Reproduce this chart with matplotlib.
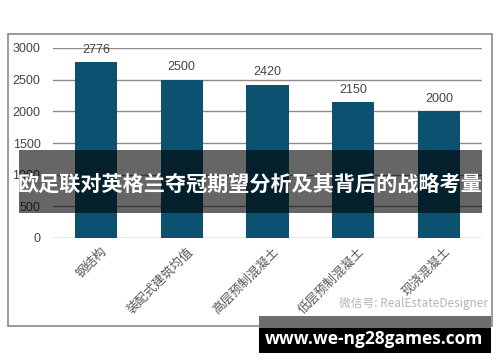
import matplotlib
matplotlib.use("Agg")
import matplotlib.pyplot as plt
from matplotlib.patches import Rectangle

plt.rcParams['font.family'] = ['Liberation Sans', 'Noto Sans CJK SC', 'DejaVu Sans']

categories = ["钢结构", "装配式建筑均值", "高层预制混凝土", "低层预制混凝土", "现浇混凝土"]
values = [2776, 2500, 2420, 2150, 2000]
yticks = [0, 500, 1000, 1500, 2000, 2500, 3000]
title = "欧足联对英格兰夺冠期望分析及其背后的战略考量"
site = "www.we-ng28games.com"
wechat = "微信号: RealEstateDesigner"

W, H = 500, 362
fig = plt.figure(figsize=(W / 100, H / 100), dpi=100)

def fx(px):
    return px / W

def fy(py):
    return 1 - py / H

# outer border
fig.patches.append(Rectangle((fx(8), fy(326)), fx(492) - fx(8), fy(34) - fy(326),
                             transform=fig.transFigure, fill=False, edgecolor="#8a8a8a", lw=1.2))

ax = fig.add_axes([fx(53), fy(238), fx(482) - fx(53), fy(48) - fy(238)])
x = range(len(categories))
ax.bar(x, values, width=0.49, color="#0c5170", zorder=3)
ax.set_xlim(-0.5, len(categories) - 0.5)
ax.set_ylim(0, 3000)
ax.set_yticks(yticks)
ax.set_yticklabels([str(v) for v in yticks], fontsize=9, color="#444444")
ax.yaxis.grid(True, color="#8c8c8c", lw=1.0, zorder=0)
ax.tick_params(axis="y", length=0, pad=9)
ax.tick_params(axis="x", length=0, pad=5)
for s in ax.spines.values():
    s.set_visible(False)
ax.set_xticks([xi + 0.05 for xi in x])
ax.set_xticklabels(categories, rotation=45, ha="right", rotation_mode="anchor",
                   fontsize=9, color="#555555", family=["Noto Sans CJK SC", "DejaVu Sans"])
for xi, v in zip(x, values):
    ax.annotate(str(v), (xi, v), xytext=(0, 4.5), textcoords="offset points",
                ha="center", va="bottom", fontsize=9, color="#444444")

# title overlay band
fig.patches.append(Rectangle((fx(19), fy(212.5)), fx(482) - fx(19), fy(150) - fy(212.5),
                             transform=fig.transFigure, facecolor="black", alpha=0.6,
                             edgecolor="none", zorder=10))
fig.text(fx(250), fy(184), title, ha="center", va="center", color="white",
         fontsize=15.2, fontweight="bold", family=["Noto Sans CJK SC", "DejaVu Sans"], zorder=11)

# wechat watermark
fig.text(fx(488), fy(303), wechat, ha="right", va="center", color="#b5b5b5",
         fontsize=8.5, family=["Noto Sans CJK SC", "DejaVu Sans"], zorder=5)

# bottom site box
fig.patches.append(Rectangle((fx(259), fy(328)), fx(491) - fx(259), fy(316) - fy(328),
                             transform=fig.transFigure, facecolor="#6e6e6e", edgecolor="none", zorder=10))
fig.patches.append(Rectangle((fx(259), fy(353)), fx(491) - fx(259), fy(328) - fy(353),
                             transform=fig.transFigure, facecolor="black", edgecolor="none", zorder=10))
fig.text(fx(374), fy(338.5), site, ha="center", va="center", color="white",
         fontsize=12.5, fontweight="bold", family=["Open Sans", "DejaVu Sans"], zorder=11)

fig.savefig("out.png", dpi=100)
